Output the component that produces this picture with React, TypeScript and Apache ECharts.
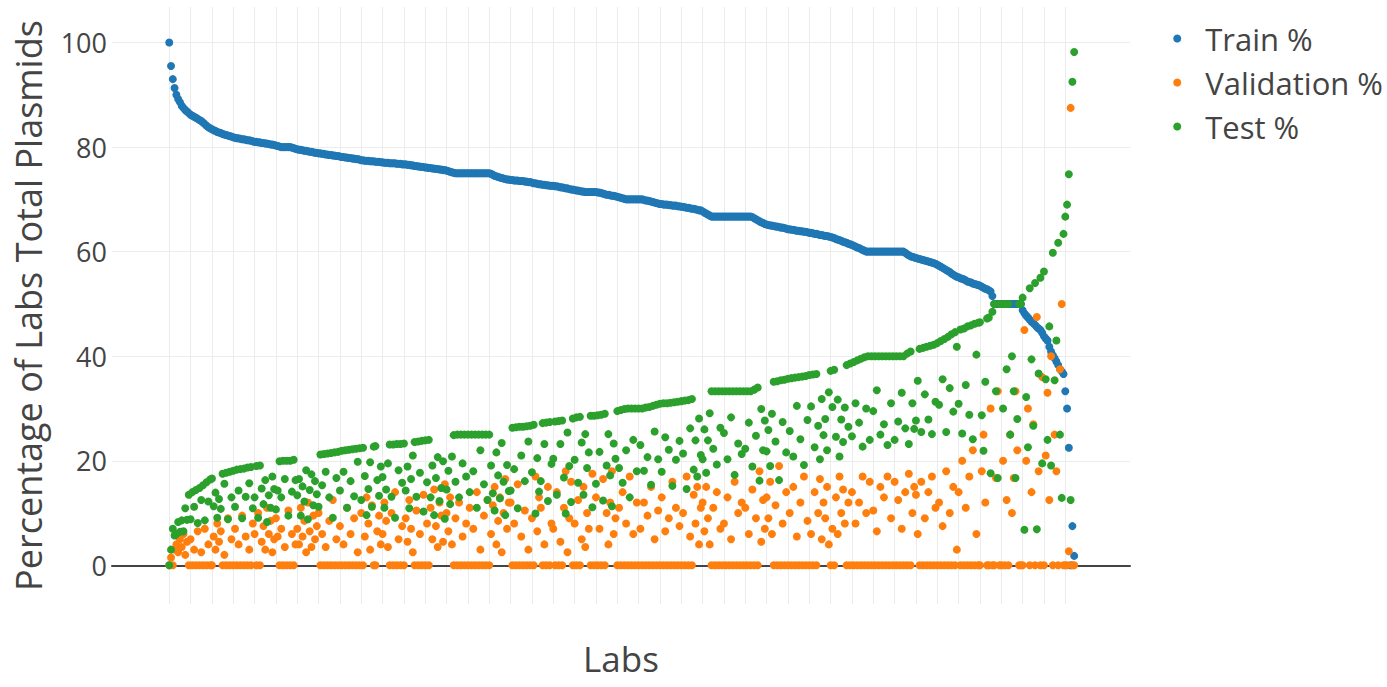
import { useEffect, useRef } from "react";
import * as echarts from "echarts";

const seriesNames = ["Train %", "Validation %", "Test %"];
const seriesColors = ["#1f77b4", "#ff7f0e", "#2ca02c"];
const yTicks = [0, 20, 40, 60, 80, 100];
const xGridTicks = [
  0, 12, 24, 36, 48, 60, 72, 84, 96, 108, 120, 132, 144, 156, 168, 180, 192, 204, 216, 228, 240,
  252, 264, 276, 288, 300, 312, 324, 336, 348, 360, 372, 384, 396, 408, 420, 432, 444, 456, 468,
  480, 492, 504,
];

// One value per lab, labs sorted by Train %
const train = [
  100, 95.5, 93, 91.3, 90, 89.2, 88.6, 87.9, 87.5, 87.1, 86.8, 86.5,
  86.2, 86.0, 85.8, 85.6, 85.4, 85.2, 85.0, 84.7, 84.4, 84.1, 83.8, 83.6,
  83.4, 83.2, 83.1, 82.9, 82.8, 82.7, 82.5, 82.4, 82.3, 82.2, 82.1, 82.0,
  81.9, 81.8, 81.7, 81.7, 81.6, 81.5, 81.5, 81.4, 81.3, 81.3, 81.2, 81.1,
  81.0, 81.0, 80.9, 80.9, 80.8, 80.8, 80.7, 80.7, 80.6, 80.5, 80.5, 80.4,
  80.3, 80.2, 80.1, 80.0, 80.0, 80.0, 80.0, 80.0, 80.0, 79.9, 79.8, 79.7,
  79.6, 79.5, 79.5, 79.4, 79.3, 79.3, 79.2, 79.1, 79.1, 79.0, 78.9, 78.9,
  78.8, 78.8, 78.7, 78.7, 78.6, 78.6, 78.5, 78.5, 78.4, 78.4, 78.3, 78.3,
  78.2, 78.1, 78.1, 78.0, 78.0, 77.9, 77.9, 77.8, 77.8, 77.7, 77.7, 77.6,
  77.5, 77.5, 77.4, 77.4, 77.4, 77.3, 77.3, 77.3, 77.2, 77.2, 77.2, 77.1,
  77.1, 77.0, 77.0, 77.0, 76.9, 76.9, 76.9, 76.9, 76.8, 76.8, 76.8, 76.7,
  76.7, 76.7, 76.6, 76.6, 76.5, 76.5, 76.4, 76.4, 76.3, 76.3, 76.2, 76.2,
  76.1, 76.1, 76.0, 76.0, 75.9, 75.9, 75.8, 75.8, 75.7, 75.7, 75.6, 75.6,
  75.5, 75.4, 75.3, 75.2, 75.1, 75, 75, 75, 75, 75, 75, 75,
  75, 75, 75, 75, 75, 75, 75, 75, 75, 75, 75, 75,
  75, 74.9, 74.7, 74.5, 74.4, 74.3, 74.2, 74.1, 74.0, 73.9, 73.8, 73.8,
  73.7, 73.7, 73.6, 73.6, 73.6, 73.5, 73.5, 73.5, 73.4, 73.4, 73.3, 73.3,
  73.2, 73.1, 73.1, 73.0, 72.9, 72.9, 72.8, 72.8, 72.7, 72.7, 72.6, 72.6,
  72.6, 72.5, 72.5, 72.4, 72.3, 72.3, 72.2, 72.1, 72.1, 72.0, 71.9, 71.9,
  71.8, 71.7, 71.7, 71.6, 71.5, 71.5, 71.4, 71.4, 71.4, 71.4, 71.4, 71.4,
  71.4, 71.3, 71.3, 71.2, 71.1, 71.0, 70.9, 70.9, 70.8, 70.7, 70.7, 70.6,
  70.5, 70.4, 70.3, 70.2, 70.1, 70, 70, 70, 70, 70, 70, 70,
  70.0, 70.0, 70.0, 69.9, 69.8, 69.8, 69.7, 69.6, 69.5, 69.4, 69.3, 69.2,
  69.1, 69.1, 69.0, 69.0, 69.0, 68.9, 68.9, 68.8, 68.8, 68.8, 68.7, 68.7,
  68.6, 68.6, 68.5, 68.4, 68.4, 68.3, 68.2, 68.2, 68.1, 68.0, 67.9, 67.9,
  67.7, 67.5, 67.3, 67.1, 66.9, 66.7, 66.7, 66.7, 66.7, 66.7, 66.7, 66.7,
  66.7, 66.7, 66.7, 66.7, 66.7, 66.7, 66.7, 66.7, 66.7, 66.7, 66.7, 66.7,
  66.7, 66.7, 66.7, 66.7, 66.6, 66.4, 66.2, 66.0, 65.8, 65.6, 65.5, 65.3,
  65.2, 65.1, 65.0, 65.0, 64.9, 64.8, 64.8, 64.7, 64.6, 64.6, 64.5, 64.4,
  64.3, 64.3, 64.2, 64.2, 64.1, 64.0, 64.0, 63.9, 63.9, 63.8, 63.8, 63.7,
  63.6, 63.6, 63.5, 63.4, 63.4, 63.3, 63.2, 63.2, 63.1, 63.0, 63.0, 62.9,
  62.8, 62.7, 62.6, 62.4, 62.3, 62.2, 62.1, 61.9, 61.8, 61.7, 61.5, 61.4,
  61.3, 61.1, 61.0, 60.8, 60.7, 60.5, 60.3, 60.2, 60, 60, 60, 60,
  60, 60, 60, 60, 60, 60, 60, 60, 60, 60, 60, 60,
  60, 60, 60, 60, 60, 60, 59.8, 59.5, 59.3, 59.1, 59.0, 58.9,
  58.8, 58.7, 58.6, 58.5, 58.4, 58.3, 58.2, 58.1, 58.0, 57.9, 57.8, 57.7,
  57.5, 57.3, 57.1, 56.9, 56.7, 56.5, 56.3, 56.1, 55.8, 55.6, 55.4, 55.2,
  55.1, 54.9, 54.8, 54.7, 54.5, 54.3, 54.2, 54.1, 53.9, 53.8, 53.7, 53.6,
  53.5, 53.3, 53.1, 52.9, 52.8, 52.6, 52.4, 51.5, 50, 50, 50, 50,
  50, 50, 50, 50, 50, 50, 50, 50, 50, 50, 50, 50,
  48.8, 48.2, 47.8, 47.4, 47.0, 46.6, 46.3, 46.0, 45.6, 45.3, 45.0, 44.5,
  43.8, 43.4, 43.0, 41.8, 40.9, 40.2, 39.6, 39.0, 38.3, 37.5, 37.1, 36.6,
  33.3, 30.0, 22.5, 0, 7.5, 1.8,
];

const validation = [
  0, 1.5, 0, 3, 4, 2.5, 5, 3.5, 6, 2, 4.5, 0,
  5, 0, 3, 0, 6.5, 0, 2.5, 0, 7, 0, 4, 0,
  0, 5.5, 3, 8, 4.5, 6.5, 0, 2, 0, 9, 0, 5,
  0, 7, 0, 4, 0, 9.5, 0, 5.5, 0, 3, 0, 8,
  6, 0, 10, 0, 4.5, 7.5, 3, 11, 6, 8.5, 2.5, 5,
  9, 5.5, 0, 7, 0, 3.5, 0, 10.5, 0, 6, 0, 4,
  7, 4, 11, 5.5, 8.5, 2.5, 12, 6.5, 3.5, 9.5, 5, 7.5,
  10, 0, 6, 0, 3.5, 0, 8.5, 0, 12.5, 0, 5, 0,
  7.5, 0, 4, 0, 11, 0, 6, 0, 9, 0, 2.5, 0,
  10, 0, 5.5, 13, 8, 3, 11.5, 0, 0, 6.5, 9.5, 4,
  6, 12, 8.5, 3.5, 0, 10, 0, 14, 0, 5, 0, 7.5,
  0, 9, 4.5, 12.5, 7, 2.5, 0, 10.5, 0, 6, 0, 13.5,
  0, 8, 0, 11, 5, 14.5, 7.5, 3.5, 12, 9.5, 4.5, 15.5,
  10, 6.5, 13, 4, 0, 9, 0, 12, 0, 5.5, 0, 8,
  0, 11, 0, 7, 0, 14, 0, 3, 0, 9.5, 0, 12.5,
  0, 6, 11.5, 15, 4, 8.5, 13, 2.5, 10, 16.5, 7, 12,
  12, 0, 8, 0, 15.5, 0, 5.5, 0, 10.5, 0, 3, 0,
  9, 0, 17, 6.5, 13, 11, 0, 4, 0, 15, 0, 8,
  7, 0, 14, 0, 4.5, 0, 11, 18, 2.5, 9, 16, 0,
  8, 0, 12.5, 0, 5, 15, 3.5, 10, 7, 0, 17.5, 0,
  13, 0, 7, 0, 16.5, 0, 10, 4, 12, 18, 6, 9,
  0, 11, 0, 14, 0, 8, 0, 17, 0, 6, 0, 12,
  0, 7, 0, 12, 0, 9.5, 0, 15, 0, 5, 0, 10.5,
  0, 13, 0, 6.5, 0, 9, 0, 16, 0, 11, 0, 7.5,
  0, 10, 0, 17, 0, 5.5, 0, 13.5, 8, 15, 4, 11,
  12, 6.5, 15, 9, 4, 0, 11, 0, 14, 0, 7, 0,
  8, 0, 13, 0, 5, 0, 16, 0, 10, 0, 12, 0,
  11, 0, 6, 0, 14.5, 0, 9, 0, 18, 4.5, 12.5, 7,
  13, 9, 16, 6, 0, 11.5, 0, 19, 0, 8, 0, 14,
  0, 10, 0, 15, 0, 5.5, 0, 12, 0, 17, 0, 8.5,
  0, 6, 0, 14, 0, 10, 16.5, 5, 12, 9, 15, 4,
  0, 7, 0, 13, 6, 17, 10, 14.5, 8, 0, 12, 0,
  14, 0, 8, 0, 12, 0, 17, 0, 10, 0, 16, 0,
  10.5, 0, 6.5, 0, 15, 0, 13, 0, 17, 0, 9, 0,
  16, 0, 12.5, 0, 7, 0, 14, 0, 17.5, 0, 10, 15,
  13.5, 6, 0, 16, 0, 9, 0, 14, 0, 17, 0, 11,
  0, 12, 0, 7.5, 0, 18, 0, 10, 0, 15, 0, 3,
  14, 0, 20, 0, 11, 0, 17, 0, 22, 0, 6, 0,
  0, 18, 25, 12, 0, 0, 30, 0, 0, 16.7, 33.3, 0,
  0, 20, 0, 12.5, 0, 25, 10, 16.7, 33.3, 22, 0, 0,
  0, 45, 20, 30, 0, 14, 27, 0, 47.5, 18, 0, 36,
  0, 21, 33, 12.5, 40, 0, 25, 18, 0, 37.5, 50, 0,
  0, 0, 2.7, 87.5, 0, 0,
];

const test = [
  0, 3, 7, 5.7, 6, 8.3, 6.4, 8.6, 6.5, 10.9, 8.7, 13.5,
  8.8, 14, 11.2, 14.4, 8.1, 14.8, 12.5, 15.3, 8.6, 15.9, 12.2, 16.4,
  16.6, 11.3, 13.9, 9.1, 12.7, 10.8, 17.5, 15.6, 17.7, 8.8, 17.9, 13,
  18.1, 11.2, 18.3, 14.3, 18.4, 9, 18.5, 13.1, 18.7, 15.7, 18.8, 10.9,
  13, 19, 9.1, 19.1, 14.7, 11.7, 16.3, 8.3, 13.4, 11, 17, 14.6,
  10.7, 14.3, 19.9, 13, 20, 16.5, 20, 9.5, 20, 14.1, 20.2, 16.3,
  13.4, 16.5, 9.5, 15.1, 12.2, 18.2, 8.8, 14.4, 17.4, 11.5, 16.1, 13.6,
  11.2, 21.2, 15.3, 21.3, 17.9, 21.4, 13, 21.5, 9.1, 21.6, 16.7, 21.7,
  14.3, 21.9, 17.9, 22, 11, 22.1, 16.1, 22.2, 13.2, 22.3, 19.8, 22.4,
  12.5, 22.5, 17.1, 9.6, 14.6, 19.7, 11.2, 22.7, 22.8, 16.3, 13.3, 18.9,
  16.9, 11, 14.5, 19.5, 23.1, 13.1, 23.1, 9.1, 23.2, 18.2, 23.2, 15.8,
  23.3, 14.3, 18.9, 10.9, 16.5, 21, 23.6, 13.1, 23.7, 17.7, 23.8, 10.3,
  23.9, 15.9, 24, 13, 19.1, 9.6, 16.7, 20.7, 12.3, 14.8, 19.9, 8.9,
  14.5, 18.1, 11.7, 20.8, 24.9, 16, 25, 13, 25, 19.5, 25, 17,
  25, 14, 25, 18, 25, 11, 25, 22, 25, 15.5, 25, 12.5,
  25, 19.1, 13.8, 10.5, 21.6, 17.2, 12.8, 23.4, 16, 9.6, 19.2, 14.2,
  14.3, 26.3, 18.4, 26.4, 10.9, 26.5, 21, 26.5, 16.1, 26.6, 23.7, 26.7,
  17.8, 26.9, 9.9, 20.5, 14.1, 16.1, 27.2, 23.2, 27.3, 12.3, 27.4, 19.4,
  20.4, 27.5, 13.5, 27.6, 23.2, 27.7, 16.8, 9.9, 25.4, 19, 12.1, 28.1,
  20.2, 28.3, 15.8, 28.4, 23.5, 13.5, 25.1, 18.6, 21.6, 28.6, 11.1, 28.6,
  15.6, 28.7, 21.7, 28.8, 12.4, 29, 19.1, 25.1, 17.2, 11.3, 23.3, 20.4,
  29.5, 18.6, 29.7, 15.8, 29.9, 22, 30, 13, 30, 24, 30, 18,
  30, 23, 30, 18.1, 30.2, 20.7, 30.3, 15.4, 30.5, 25.6, 30.7, 20.3,
  30.9, 17.9, 31, 24.5, 31, 22.1, 31.1, 15.2, 31.2, 20.2, 31.3, 23.8,
  31.4, 21.4, 31.5, 14.6, 31.6, 26.2, 31.8, 18.3, 23.9, 17, 28.1, 21.1,
  20.3, 26, 17.7, 23.9, 29.1, 33.3, 22.3, 33.3, 19.3, 33.3, 26.3, 33.3,
  25.3, 33.3, 20.3, 33.3, 28.3, 33.3, 17.3, 33.3, 23.3, 33.3, 21.3, 33.3,
  22.3, 33.3, 27.3, 33.3, 18.9, 33.6, 24.8, 34, 16.2, 29.9, 22, 27.7,
  21.8, 25.9, 19, 29, 35.1, 23.7, 35.2, 16.3, 35.4, 27.4, 35.5, 21.6,
  35.7, 25.7, 35.8, 20.8, 35.9, 30.5, 36, 24.1, 36.1, 19.2, 36.2, 27.8,
  36.4, 30.4, 36.5, 22.6, 36.6, 26.7, 20.3, 31.8, 24.9, 28, 22, 33.1,
  37.2, 30.3, 37.4, 24.6, 31.7, 20.8, 27.9, 23.6, 30.2, 38.3, 26.5, 38.6,
  24.7, 38.9, 31, 39.2, 27.3, 39.5, 22.7, 39.8, 30, 40, 24, 40,
  29.5, 40, 33.5, 40, 25, 40, 27, 40, 23, 40, 31, 40,
  24, 40, 27.5, 40, 33, 40, 26.2, 40.5, 23.2, 40.9, 31, 26.1,
  27.7, 35.3, 41.4, 25.5, 41.6, 32.7, 41.8, 27.9, 42, 25.1, 42.2, 31.3,
  42.5, 30.7, 42.9, 35.6, 43.3, 25.5, 43.7, 33.9, 44.2, 29.4, 44.6, 41.8,
  30.9, 45.1, 25.2, 45.3, 34.5, 45.7, 28.8, 45.9, 24.1, 46.2, 40.3, 46.4,
  46.5, 28.7, 21.9, 35.1, 47.2, 47.4, 17.6, 48.5, 50, 33.3, 16.7, 50,
  50, 30, 50, 37.5, 50, 25, 40, 33.3, 16.7, 28, 50, 50,
  51.2, 6.8, 32.2, 22.6, 53, 39.4, 26.7, 54, 6.9, 36.7, 55, 19.5,
  56.2, 35.6, 24, 45.7, 19.1, 59.8, 35.4, 43, 61.7, 25, 12.9, 63.4,
  66.7, 69, 74.8, 12.5, 92.5, 98.2,
];

const seriesValues = [train, validation, test];

export default function App() {
  const ref = useRef<HTMLDivElement>(null);

  useEffect(() => {
    const chart = echarts.init(ref.current as HTMLDivElement, undefined, { renderer: "svg" });
    const font = "'Open Sans', 'Noto Sans', sans-serif";
    chart.setOption({
      animation: false,
      backgroundColor: "#ffffff",
      textStyle: { fontFamily: font, color: "#444" },
      grid: {
        left: 112,
        right: 257,
        top: 7,
        bottom: 83,
        containLabel: false,
        outerBoundsMode: "none",
      },
      legend: {
        data: seriesNames,
        orient: "vertical",
        right: 4,
        top: 23,
        padding: 0,
        icon: "circle",
        itemWidth: 46,
        itemHeight: 8,
        itemGap: 13,
        textStyle: { fontSize: 31, color: "#444", fontFamily: font },
      },
      xAxis: {
        type: "value",
        min: -32.2,
        max: 540.4,
        name: "Labs",
        nameLocation: "middle",
        nameGap: 37,
        nameTextStyle: { fontSize: 35, color: "#444", fontFamily: font },
        axisLine: { show: true, onZero: true, lineStyle: { color: "#444", width: 2 } },
        axisTick: { show: false, customValues: xGridTicks },
        axisLabel: { show: false, customValues: xGridTicks },
        splitLine: { show: true, lineStyle: { color: "#ececec", width: 1 } },
      },
      yAxis: {
        type: "value",
        min: -7.4,
        max: 106.8,
        name: "Percentage of Labs Total Plasmids",
        nameLocation: "middle",
        nameGap: 66,
        nameTextStyle: { fontSize: 36, color: "#444", fontFamily: font },
        axisLine: { show: false },
        axisTick: { show: false, customValues: yTicks },
        axisLabel: {
          customValues: yTicks,
          fontSize: 27,
          color: "#444",
          margin: 5,
          fontFamily: font,
        },
        splitLine: { show: true, lineStyle: { color: "#ececec", width: 1 } },
      },
      series: seriesNames.map((name, k) => ({
        name,
        type: "scatter",
        symbol: "circle",
        symbolSize: 8,
        clip: false,
        itemStyle: { color: seriesColors[k], opacity: 1 },
        emphasis: { disabled: true },
        data: seriesValues[k].map((v, i) => [i, v]),
      })),
    });
    return () => chart.dispose();
  }, []);

  return (
    <div
      ref={ref}
      style={{ position: "fixed", left: 0, top: 0, width: 1387, height: 687, background: "#fff" }}
    />
  );
}
